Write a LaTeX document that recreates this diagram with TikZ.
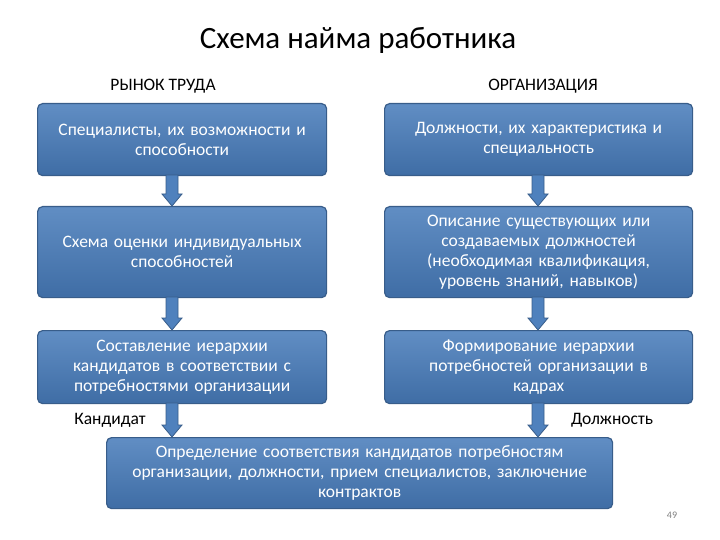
\documentclass[tikz,border=0pt]{standalone}
\usepackage{fontspec}
\setmainfont{Carlito}
\usetikzlibrary{calc}
\definecolor{bfill}{HTML}{4F81BD}
\definecolor{bdark}{HTML}{3F6DA5}
\definecolor{bedge}{HTML}{385D8A}
\tikzset{
 box/.style={draw=bedge,line width=1.2pt,rounded corners=5pt,top color=bfill!90!white,bottom color=bdark,text=white,align=center,font=\fontsize{17.5}{20}\selectfont,inner sep=2pt,anchor=north west},
 barrow/.style={fill=bfill,draw=bedge,line width=0.8pt},
 lbl/.style={font=\fontsize{17.5}{20}\selectfont,text=black}
}
\begin{document}
\begin{tikzpicture}[x=1pt,y=-1pt]
\useasboundingbox[fill=white] (0,0) rectangle (720,540);
\node[font=\fontsize{31}{36}\selectfont] (t) at (358,40) {Схема найма работника};
\node[lbl] (h1) at (163,86) {РЫНОК ТРУДА};
\node[lbl] (h2) at (543,86) {ОРГАНИЗАЦИЯ};
\node[box,minimum width=289pt,minimum height=72pt,text width=284pt] (l1) at (37,103) {Специалисты, их возможности и\\способности};
\node[box,minimum width=289pt,minimum height=91pt,text width=284pt] (l2) at (37,206) {Схема оценки индивидуальных\\способностей};
\node[box,minimum width=289pt,minimum height=73pt,text width=284pt] (l3) at (37,330) {Составление иерархии\\кандидатов в соответствии с\\потребностями организации};
\node[box,minimum width=308pt,minimum height=72pt,text width=300pt] (r1) at (384,103) {Должности, их характеристика и\\специальность};
\node[box,minimum width=308pt,minimum height=91pt,text width=300pt] (r2) at (384,206) {Описание существующих или\\создаваемых должностей\\(необходимая квалификация,\\уровень знаний, навыков)};
\node[box,minimum width=308pt,minimum height=73pt,text width=300pt] (r3) at (384,330) {Формирование иерархии\\потребностей организации в\\кадрах};
\node[box,minimum width=506pt,minimum height=71pt,text width=500pt] (b) at (106,437) {Определение соответствия кандидатов потребностям\\организации, должности, прием специалистов, заключение\\контрактов};
\coordinate (bl) at (172,437);
\coordinate (br) at (538,437);
\coordinate (l1s) at (172,175); \coordinate (l2n) at (172,206);
\coordinate (l2s) at (172,297); \coordinate (l3n) at (172,330);
\coordinate (l3s) at (172,403);
\coordinate (r1s) at (538,175); \coordinate (r2n) at (538,206);
\coordinate (r2s) at (538,297); \coordinate (r3n) at (538,330);
\coordinate (r3s) at (538,403);
\foreach \a/\b in {l1s/l2n,l2s/l3n,l3s/bl,r1s/r2n,r2s/r3n,r3s/br}{
 \path[barrow] ($(\a)+(-6,0)$) -- ($(\a)+(6,0)$) -- ($(\b)+(6,-12)$) -- ($(\b)+(10,-12)$) -- (\b) -- ($(\b)+(-10,-12)$) -- ($(\b)+(-6,-12)$) -- cycle;}
\node[lbl] (k) at (110,420) {Кандидат};
\node[lbl] (d) at (612,420) {Должность};
\node[font=\fontsize{10}{12}\selectfont,text=gray] (n) at (672,515) {49};
\end{tikzpicture}
\end{document}
